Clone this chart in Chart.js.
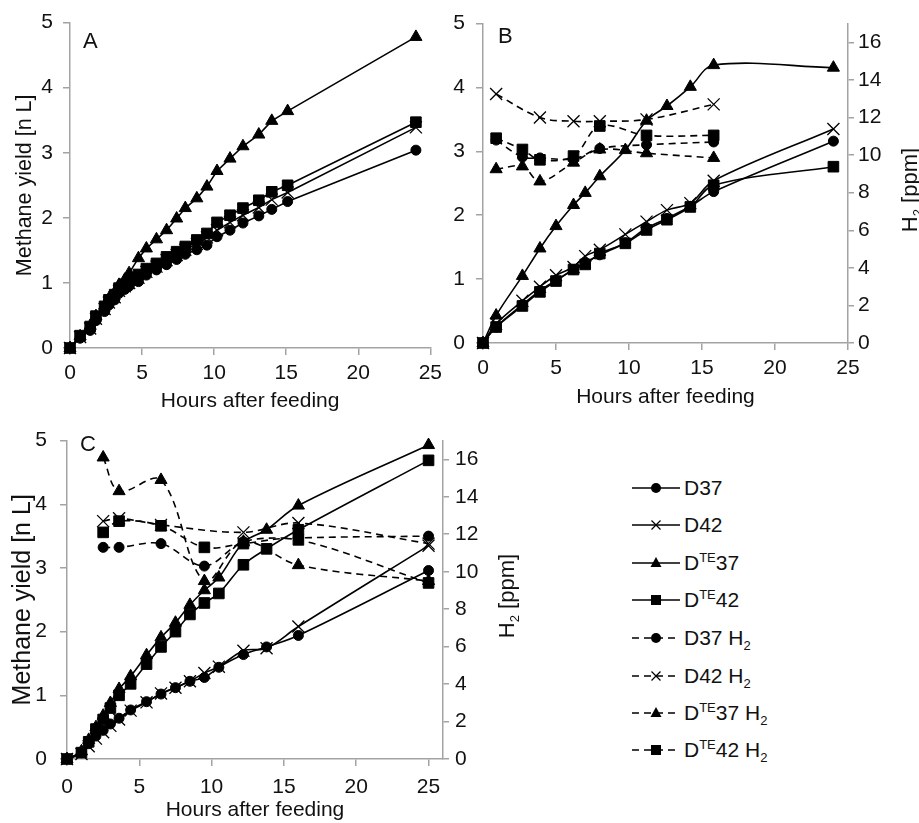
<!DOCTYPE html>
<html lang="en">
<head>
<meta charset="UTF-8" />
<title>Methane yield and H2</title>
<script src="https://cdn.jsdelivr.net/npm/chart.js@4.4.1/dist/chart.umd.min.js"></script>
<style>
	body { margin: 0; background: #fff; font-family: "Liberation Sans", Arial, sans-serif; }
	#page { position: relative; width: 919px; height: 823px; overflow: hidden; }
	#page canvas { position: absolute; }
	.letter { position: absolute; font-size: 22px; line-height: 22px; color: #111; }
	.h2title { position: absolute; width: 160px; height: 26px; line-height: 26px; text-align: center; font-size: 22px; color: #111; transform: rotate(-90deg); white-space: nowrap; }
	.row { position: absolute; left: 630px; height: 26px; font-size: 21px; line-height: 26px; color: #111; white-space: nowrap; }
	.row svg { position: absolute; left: 0; top: 0; }
	.row span { position: absolute; left: 54px; top: 0; }
	sup, sub { font-size: 13px; line-height: 0; }
</style>
</head>
<body>
<div id="page">
	<canvas id="chartA" width="448" height="420" style="left:0;top:0"></canvas>
	<canvas id="chartB" width="479" height="420" style="left:440px;top:0"></canvas>
	<canvas id="chartC" width="520" height="408" style="left:0;top:415px"></canvas>

	<div class="letter" style="left:83px;top:30px">A</div>
	<div class="letter" style="left:498px;top:25px">B</div>
	<div class="letter" style="left:80px;top:433px">C</div>

	<div class="h2title" style="left:830px;top:177px">H<sub>2</sub> [ppm]</div>
	<div class="h2title" style="left:427px;top:583px">H<sub>2</sub> [ppm]</div>

	<div id="legend"></div>
</div>

<script>
	// panel A - methane only
	const timeA = [0, 0.7, 1.4, 1.8, 2.4, 2.7, 3.1, 3.4, 3.8, 4.1, 4.75, 5.3, 6.0, 6.7, 7.4, 8.0, 8.8, 9.5, 10.2, 11.1, 12.0, 13.1, 14.0, 15.1, 24.0];
	const a_D37 = [0, 0.15, 0.27, 0.42, 0.56, 0.66, 0.74, 0.84, 0.90, 0.95, 1.02, 1.12, 1.20, 1.28, 1.36, 1.44, 1.51, 1.58, 1.71, 1.81, 1.92, 2.03, 2.13, 2.25, 3.04];
	const a_D42 = [0, 0.17, 0.30, 0.45, 0.60, 0.70, 0.78, 0.88, 0.95, 1.00, 1.08, 1.17, 1.25, 1.35, 1.43, 1.51, 1.60, 1.70, 1.81, 1.93, 2.04, 2.16, 2.28, 2.39, 3.39];
	const a_DTE37 = [0, 0.18, 0.34, 0.49, 0.65, 0.76, 0.85, 0.97, 1.05, 1.15, 1.38, 1.53, 1.67, 1.81, 1.99, 2.15, 2.30, 2.48, 2.72, 2.91, 3.10, 3.28, 3.49, 3.64, 4.78];
	const a_DTE42 = [0, 0.19, 0.33, 0.49, 0.64, 0.74, 0.82, 0.92, 0.98, 1.03, 1.13, 1.22, 1.30, 1.40, 1.48, 1.56, 1.66, 1.76, 1.93, 2.04, 2.15, 2.27, 2.40, 2.50, 3.47];

	// panel B
	const timeB = [0, 0.9, 2.7, 3.9, 5.0, 6.2, 7.0, 8.0, 9.75, 11.2, 12.6, 14.2, 15.8, 24.0];
	const b_D37 = [0, 0.25, 0.60, 0.82, 0.98, 1.15, 1.26, 1.38, 1.57, 1.80, 1.95, 2.14, 2.37, 3.16];
	const b_D42 = [0, 0.30, 0.66, 0.88, 1.06, 1.19, 1.36, 1.46, 1.70, 1.90, 2.08, 2.19, 2.54, 3.35];
	const b_DTE37 = [0, 0.43, 1.05, 1.48, 1.83, 2.16, 2.35, 2.61, 3.02, 3.48, 3.71, 4.01, 4.35, 4.31];
	const b_DTE42 = [0, 0.25, 0.58, 0.80, 0.97, 1.15, 1.23, 1.40, 1.56, 1.77, 1.93, 2.13, 2.47, 2.76];
	const timeB_H2 = [0.9, 2.7, 3.9, 6.2, 8.0, 11.2, 15.8];
	const b_D37_H2 = [10.8, 9.9, 9.85, 9.8, 10.35, 10.55, 10.7];
	const b_D42_H2 = [13.25, null, 12.0, 11.8, 11.8, 11.9, 12.7];
	const b_DTE37_H2 = [9.25, 9.4, 8.6, 9.6, 10.3, 10.1, 9.85];
	const b_DTE42_H2 = [10.9, 10.3, 9.75, 9.95, 11.55, 11.05, 11.05];

	// panel C
	const timeC = [0, 1.0, 1.5, 2.0, 2.5, 3.0, 3.6, 4.4, 5.5, 6.5, 7.5, 8.5, 9.5, 10.5, 12.2, 13.8, 16.0, 25.0];
	const c_D37 = [0, 0.10, 0.24, 0.36, 0.45, 0.55, 0.64, 0.77, 0.90, 1.02, 1.12, 1.22, 1.28, 1.44, 1.64, 1.76, 1.94, 2.96];
	const c_D42 = [0, 0.08, 0.20, 0.32, 0.42, 0.52, 0.62, 0.76, 0.89, 1.03, 1.12, 1.22, 1.35, 1.45, 1.70, 1.74, 2.08, 3.35];
	const c_DTE37 = [0, 0.12, 0.30, 0.50, 0.68, 0.88, 1.10, 1.30, 1.63, 1.91, 2.14, 2.42, 2.65, 2.85, 3.40, 3.60, 3.98, 4.93];
	const c_DTE42 = [0, 0.10, 0.27, 0.47, 0.62, 0.80, 1.00, 1.18, 1.49, 1.76, 2.00, 2.27, 2.45, 2.60, 3.05, 3.30, 3.60, 4.69];
	const timeC_H2 = [2.5, 3.6, 6.5, 9.5, 12.2, 16.0, 25.0];
	const c_D37_H2 = [11.3, 11.3, 11.5, 10.3, 11.6, 11.8, 11.9];
	const c_D42_H2 = [12.7, 12.85, 12.5, null, 12.1, 12.6, 11.5];
	const c_DTE37_H2 = [16.1, 14.3, 14.9, 9.5, 11.6, 10.35, 9.5];
	const c_DTE42_H2 = [12.1, 12.7, 12.45, 11.3, 11.5, 11.7, 9.4];

	// axis ticks
	const hourTicks = [0, 5, 10, 15, 20, 25];
	const yieldTicks = [0, 1, 2, 3, 4, 5];
	const h2Ticks = [0, 2, 4, 6, 8, 10, 12, 14, 16];

	const grey = "#a3a3a3";
	const ink = "#111";
	const radii = { circle: 5, crossRot: 8.5, triangle: 7, rect: 7.5 };

	function makeSet(xs, ys, style, dashed, axis, tension) {
		return {
			data: xs.map((x, i) => ({ x: x, y: ys[i] })),
			yAxisID: axis,
			borderColor: "#000",
			backgroundColor: "#000",
			borderWidth: 1.6,
			borderDash: dashed ? [7, 5] : [],
			tension: tension,
			spanGaps: true,
			clip: false,
			pointStyle: style,
			pointRadius: radii[style],
			pointBorderWidth: style === "crossRot" ? 1.3 : 1,
			pointBackgroundColor: "#000",
			pointBorderColor: "#000",
		};
	}

	function xAxis(max, height, tickPad, titlePad) {
		return {
			type: "linear",
			min: 0,
			max: max,
			afterBuildTicks: (s) => { s.ticks = hourTicks.map((v) => ({ value: v })); },
			afterFit: (s) => { s.height = height; },
			ticks: { color: ink, font: { size: 21 }, padding: tickPad, maxRotation: 0 },
			grid: { drawOnChartArea: false, tickLength: 7, color: grey, lineWidth: 1.5 },
			border: { color: grey, width: 1.5 },
			title: { display: true, text: "Hours after feeding", color: ink, font: { size: 21 }, padding: { top: 0, bottom: titlePad } },
		};
	}

	function yAxis(width, tickPad, title, titleSize, titlePad) {
		return {
			type: "linear",
			position: "left",
			min: 0,
			max: 5,
			afterBuildTicks: (s) => { s.ticks = yieldTicks.map((v) => ({ value: v })); },
			afterFit: (s) => { s.width = width; },
			ticks: { color: ink, font: { size: 21 }, padding: tickPad },
			grid: { drawOnChartArea: false, tickLength: 7, color: grey, lineWidth: 1.5 },
			border: { color: grey, width: 1.5 },
			title: { display: !!title, text: title || "", color: ink, font: { size: titleSize }, padding: { top: titlePad, bottom: 0 } },
		};
	}

	function y2Axis(width, tickPad) {
		return {
			type: "linear",
			position: "right",
			min: 0,
			max: 17,
			afterBuildTicks: (s) => { s.ticks = h2Ticks.map((v) => ({ value: v })); },
			afterFit: (s) => { s.width = width; },
			ticks: { color: ink, font: { size: 21 }, padding: tickPad },
			grid: { drawOnChartArea: false, tickLength: 6, color: grey, lineWidth: 1.5 },
			border: { color: grey, width: 1.5 },
		};
	}

	function baseOptions(padding, scales) {
		return {
			responsive: false,
			animation: false,
			layout: { padding: padding },
			plugins: { legend: { display: false }, tooltip: { enabled: false } },
			scales: scales,
		};
	}

	Chart.defaults.font.family = '"Liberation Sans", Arial, sans-serif';

	new Chart(document.getElementById("chartA"), {
		type: "line",
		data: {
			datasets: [
				makeSet(timeA, a_D37, "circle", false, "y", 0),
				makeSet(timeA, a_D42, "crossRot", false, "y", 0),
				makeSet(timeA, a_DTE42, "rect", false, "y", 0),
				makeSet(timeA, a_DTE37, "triangle", false, "y", 0),
			],
		},
		options: baseOptions({ top: 22, right: 10, left: 0, bottom: 0 }, {
			x: xAxis(25, 72, 6, 6),
			y: yAxis(70, 10, "Methane yield [n L]", 21.5, 12),
		}),
	});

	new Chart(document.getElementById("chartB"), {
		type: "line",
		data: {
			datasets: [
				makeSet(timeB_H2, b_D37_H2, "circle", true, "y2", 0.35),
				makeSet(timeB_H2, b_D42_H2, "crossRot", true, "y2", 0.35),
				makeSet(timeB_H2, b_DTE37_H2, "triangle", true, "y2", 0.35),
				makeSet(timeB_H2, b_DTE42_H2, "rect", true, "y2", 0.35),
				makeSet(timeB, b_D37, "circle", false, "y", 0.35),
				makeSet(timeB, b_D42, "crossRot", false, "y", 0.35),
				makeSet(timeB, b_DTE42, "rect", false, "y", 0.35),
				makeSet(timeB, b_DTE37, "triangle", false, "y", 0.35),
			],
		},
		options: baseOptions({ top: 17, right: 0, left: 0, bottom: 0 }, {
			x: xAxis(25, 77, 6, 10),
			y: yAxis(43, 11, null, 21, 0),
			y2: y2Axis(71, 4),
		}),
	});

	new Chart(document.getElementById("chartC"), {
		type: "line",
		data: {
			datasets: [
				makeSet(timeC_H2, c_D37_H2, "circle", true, "y2", 0.35),
				makeSet(timeC_H2, c_D42_H2, "crossRot", true, "y2", 0.35),
				makeSet(timeC_H2, c_DTE37_H2, "triangle", true, "y2", 0.35),
				makeSet(timeC_H2, c_DTE42_H2, "rect", true, "y2", 0.35),
				makeSet(timeC, c_D37, "circle", false, "y", 0.35),
				makeSet(timeC, c_D42, "crossRot", false, "y", 0.35),
				makeSet(timeC, c_DTE42, "rect", false, "y", 0.35),
				makeSet(timeC, c_DTE37, "triangle", false, "y", 0.35),
			],
		},
		options: baseOptions({ top: 22, right: 0, left: 0, bottom: 0 }, {
			x: xAxis(26, 64, 9, 0),
			y: yAxis(67, 13, "Methane yield [n L]", 25, 8),
			y2: y2Axis(77, 6),
		}),
	});

	// legend (HTML, so the super/subscripts stay real text)
	const legendLabels = ["D37", "D42", "D<sup>TE</sup>37", "D<sup>TE</sup>42", "D37 H<sub>2</sub>", "D42 H<sub>2</sub>", "D<sup>TE</sup>37 H<sub>2</sub>", "D<sup>TE</sup>42 H<sub>2</sub>"];
	const legendMarkers = ["circle", "crossRot", "triangle", "rect", "circle", "crossRot", "triangle", "rect"];
	const legendDashed = [false, false, false, false, true, true, true, true];
	const legendRowY = [488, 525, 563, 600, 638, 676, 713, 750];

	function markerSvg(style) {
		if (style === "circle") return '<circle cx="26" cy="13" r="5" fill="#000"/>';
		if (style === "triangle") return '<polygon points="26,7 31.5,17 20.5,17" fill="#000"/>';
		if (style === "rect") return '<rect x="21" y="8" width="10" height="10" fill="#000"/>';
		return '<path d="M21.5 8.5 L30.5 17.5 M21.5 17.5 L30.5 8.5" stroke="#000" stroke-width="1.2"/>';
	}

	const legend = document.getElementById("legend");
	legendLabels.forEach((label, i) => {
		const dash = legendDashed[i] ? ' stroke-dasharray="7,5"' : "";
		const row = document.createElement("div");
		row.className = "row";
		row.style.top = legendRowY[i] - 13 + "px";
		row.innerHTML =
			'<svg width="52" height="26"><line x1="2" y1="13" x2="50" y2="13" stroke="#000" stroke-width="1.5"' + dash + "/>" +
			markerSvg(legendMarkers[i]) + "</svg><span>" + label + "</span>";
		legend.appendChild(row);
	});
</script>
</body>
</html>
